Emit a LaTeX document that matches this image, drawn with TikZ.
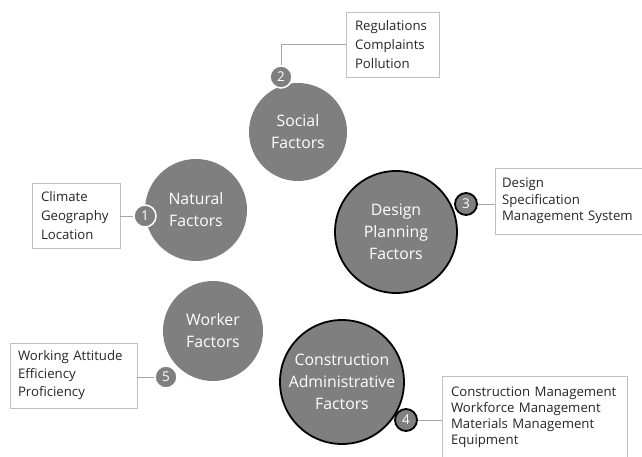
\documentclass[tikz,border=0pt]{standalone}
\usepackage{fontspec}
\setmainfont{Open Sans}
\begin{document}
\begin{tikzpicture}[x=1pt,y=-1pt,
  bigc/.style={circle, fill=circfill, text=white, align=center, inner sep=0pt,
    font=\fontsize{15.8}{22}\selectfont},
  bold/.style={draw=black, line width=1.8pt},
  badge/.style={circle, fill=circfill, text=white, inner sep=0pt, minimum size=22pt,
    font=\fontsize{13.5}{13.5}\selectfont},
  wbadge/.style={badge, draw=white, line width=1.5pt},
  bbadge/.style={badge, draw=black, line width=1.8pt},
  infobox/.style={draw=gray!50, line width=0.6pt, fill=white, align=left,
    inner sep=0pt, text=black!85},
  conn/.style={draw=gray!70, line width=0.6pt}
]
\definecolor{circfill}{HTML}{7F7F7F}
\hyphenpenalty=10000
\useasboundingbox (0,0) rectangle (642,457);

% main circles
\node[bigc, minimum size=98pt] (social) at (298,132) {Social\\Factors};
\node[bigc, minimum size=102pt] (natural) at (196,210) {Natural\\Factors};
\node[bigc, minimum size=100pt] (worker) at (213,331) {Worker\\Factors};
\node[bigc, bold, minimum size=122pt] (design) at (396,232) {Design\\Planning\\Factors};
\node[bigc, bold, minimum size=124pt] (constr) at (342,382) {Construction\\Administrative\\Factors};

% badges
\node[wbadge] (b1) at (145,216) {1};
\node[wbadge] (b2) at (281,77) {2};
\node[bbadge] (b3) at (466,204) {3};
\node[bbadge] (b4) at (406,420) {4};
\node[wbadge] (b5) at (166,377) {5};

% info boxes
\node[infobox, font=\fontsize{13.2}{19}\selectfont, minimum width=93pt, minimum height=65pt, text width=75pt] (box2) at (392.5,44.5)
  {Regulations\\Complaints\\Pollution};
\node[infobox, font=\fontsize{13.2}{19}\selectfont, minimum width=88pt, minimum height=65pt, text width=70pt] (box1) at (76,215.5)
  {Climate\\Geography\\Location};
\node[infobox, font=\fontsize{13.2}{16.5}\selectfont, minimum width=147pt, minimum height=66pt, text width=133pt] (box3) at (568.5,201)
  {Design\\Specification\\Management\ System};
\node[infobox, font=\fontsize{13.2}{18}\selectfont, minimum width=127pt, minimum height=65pt, text width=111pt] (box5) at (73.5,375.5)
  {Working Attitude\\Efficiency\\Proficiency};
\node[infobox, font=\fontsize{13.2}{16}\selectfont, minimum width=185pt, minimum height=82pt, text width=167pt] (box4) at (534.5,417)
  {Construction Management\\Workforce Management\\Materials Management\\Equipment};

% connectors
\draw[conn] (b2.north) |- (box2.west);
\draw[conn] (b1.west) -- (b1.west -| box1.east);
\draw[conn] (b3.east) -- (b3.east -| box3.west);
\draw[conn] (b5.west) -- (b5.west -| box5.east);
\draw[conn] (b4.east) -- (b4.east -| box4.west);
\end{tikzpicture}
\end{document}
